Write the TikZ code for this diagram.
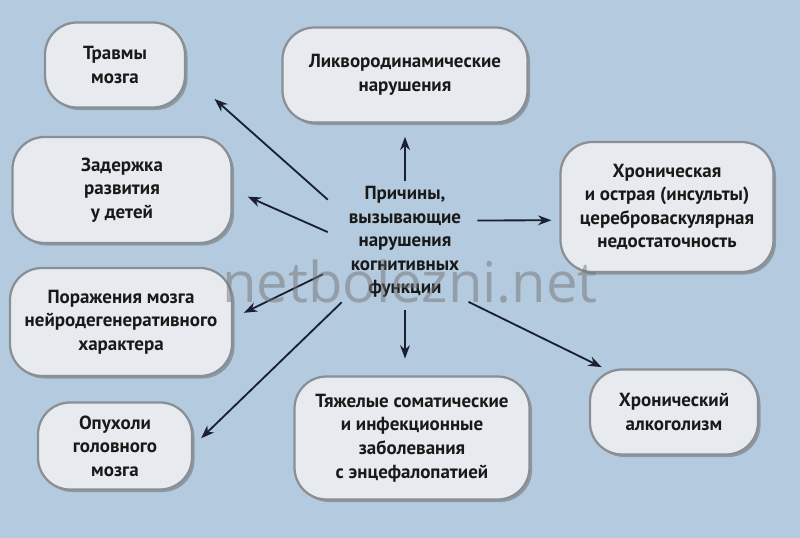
\documentclass[tikz,border=0pt]{standalone}
\usepackage{fontspec}
\setmainfont{PT Sans}
\setsansfont{Open Sans}
\usetikzlibrary{shapes,shapes.misc,shadows}
\usetikzlibrary{positioning,arrows.meta}
\definecolor{bgblue}{RGB}{180,203,223}
\definecolor{boxfill}{RGB}{231,234,238}
\definecolor{boxline}{RGB}{138,143,150}
\definecolor{arrline}{RGB}{26,32,48}
\tikzset{
  cause/.style={draw=boxline, line width=1.6pt, fill=boxfill, rounded corners=0.8cm,
    align=center, font=\bfseries\fontsize{13.5}{16.8}\selectfont, text=black!90,
    drop shadow={shadow xshift=1.8pt, shadow yshift=-1.8pt, fill=black!60, opacity=0.5}},
  arr/.style={draw=arrline, line width=1.3pt, -{Stealth[length=9.5pt,width=7pt]}}
}

\begin{document}
\begin{tikzpicture}
\fill[bgblue] (0,0) rectangle (20,13.45);
\useasboundingbox (0,0) rectangle (20,13.45);
% causes
\draw(2.875,11.825) node[cause, minimum width=3.5cm, minimum height=2.125cm] (trauma) {Травмы\\мозга};
\draw(10.125,11.575) node[cause, minimum width=6.125cm, minimum height=2.375cm] (liquor) {Ликвородинамические\\нарушения};
\draw(3.05,8.7) node[cause, minimum width=5.475cm, minimum height=2.65cm] (delay) {Задержка\\развития\\у детей};
\draw(16.675,8.275) node[cause, minimum width=5.325cm, minimum height=3.25cm] (vasc) {Хроническая\\и острая (инсульты)\\цереброваскулярная\\недостаточность};
\draw(3.025,5.4) node[cause, minimum width=5.55cm, minimum height=2.7cm] (degen) {Поражения мозга\\нейродегенеративного\\характера};
\draw(2.875,2.3) node[cause, minimum width=3.85cm, minimum height=2.175cm] (tumor) {Опухоли\\головного\\мозга};
\draw(10.3,2.5) node[cause, minimum width=5.875cm, minimum height=3.075cm] (somat) {Тяжелые соматические\\и инфекционные\\заболевания\\с энцефалопатией};
\draw(16.85,3.15) node[cause, minimum width=4.2cm, minimum height=2.125cm] (alco) {Хронический\\алкоголизм};
% centre
\draw(10.125,7.4) node[align=center, minimum width=3.1cm, minimum height=2.95cm, inner sep=0pt,
  font=\bfseries\fontsize{13.5}{16.8}\selectfont, text=black!90] (c) {Причины,\\вызывающие\\нарушения\\когнитивных\\функции};
% arrows
\draw[arr, shorten <=1pt, shorten >=0.33cm] (c.north) -- (liquor.south);
\draw[arr, shorten <=0.5cm, shorten >=0.95cm] (c.155) -- (trauma.-7);
\draw[arr, shorten <=0.41cm, shorten >=0.41cm] (c.177) -- (delay.east);
\draw[arr, shorten <=0.25cm, shorten >=0.2cm] (c.19.5) -- (vasc.187);
\draw[arr, shorten <=0.55cm, shorten >=0.3cm] (c.200.8) -- (degen.2);
\draw[arr, shorten <=1pt, shorten >=0.28cm] (c.south west) -- (tumor.east);
\draw[arr, shorten <=0.22cm, shorten >=0.42cm] (c.south) -- (c.south |- somat.north);
\draw[arr, shorten <=1pt, shorten >=2pt] (c.south east) -- (alco.148);
% watermark
\draw(10.25,6.4) node[font=\sffamily\fontsize{40}{40}\selectfont, text=black!55, opacity=0.5] (mark) {netbolezni.net};
\end{tikzpicture}
\end{document}
